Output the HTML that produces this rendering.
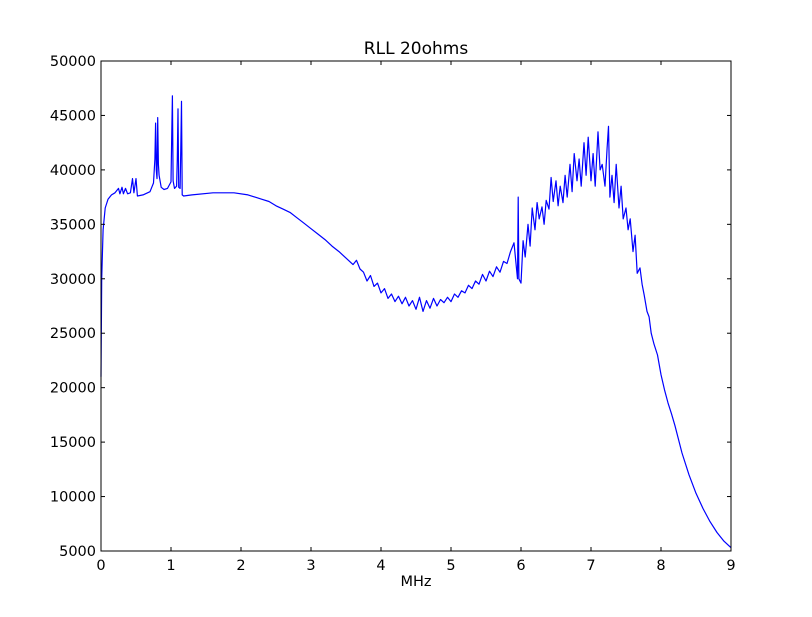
<!DOCTYPE html>
<html><head><meta charset="utf-8"><style>
body{margin:0;background:#fff;}
svg text{font-family:"DejaVu Sans","Liberation Sans",sans-serif;}
</style></head><body>
<svg id="chart" width="812" height="612" xmlns="http://www.w3.org/2000/svg">
<rect width="812" height="612" fill="#fff"/>
<g id="plot"></g>
</svg>
<script>
const xTicks=[0,1,2,3,4,5,6,7,8,9];
const yTicks=[5000,10000,15000,20000,25000,30000,35000,40000,45000,50000];
const xs=[
0,0.01,0.03,0.06,0.1,0.15,0.2,0.25,0.27,0.3,
0.32,0.35,0.38,0.42,0.45,0.47,0.5,0.52,0.6,0.7,
0.75,0.77,0.78,0.79,0.8,0.81,0.82,0.83,0.86,0.9,
0.95,1.0,1.01,1.02,1.03,1.05,1.08,1.09,1.1,1.11,
1.13,1.14,1.15,1.16,1.18,1.3,1.6,1.9,2.1,2.3,
2.4,2.5,2.6,2.7,2.8,2.9,3.0,3.1,3.2,3.3,
3.4,3.5,3.6,3.65,3.7,3.75,3.8,3.85,3.9,3.95,
4.0,4.05,4.1,4.15,4.2,4.25,4.3,4.35,4.4,4.45,
4.5,4.55,4.6,4.65,4.7,4.75,4.8,4.85,4.9,4.95,
5.0,5.05,5.1,5.15,5.2,5.25,5.3,5.35,5.4,5.45,
5.5,5.55,5.6,5.65,5.7,5.75,5.8,5.85,5.9,5.95,
5.96,5.97,6.0,6.03,6.06,6.1,6.13,6.16,6.2,6.23,
6.26,6.3,6.33,6.36,6.4,6.43,6.46,6.5,6.53,6.56,
6.6,6.63,6.66,6.7,6.73,6.76,6.8,6.83,6.86,6.9,
6.93,6.96,7.0,7.03,7.06,7.1,7.13,7.16,7.2,7.23,
7.25,7.27,7.3,7.33,7.36,7.4,7.43,7.46,7.5,7.53,
7.56,7.6,7.63,7.66,7.7,7.73,7.76,7.8,7.83,7.86,
7.9,7.95,8.0,8.05,8.1,8.15,8.2,8.3,8.4,8.5,
8.6,8.7,8.8,8.9,9.0];
const ys=[
21000,30000,34500,36500,37300,37700,37900,38300,37800,38400,
37800,38300,37800,37900,39200,37900,39200,37600,37700,38000,
38800,41000,44300,40000,39200,44800,40500,39500,38400,38200,
38300,38900,43000,46800,39000,38300,38500,41000,45600,38400,
38300,42000,46300,37700,37600,37700,37900,37900,37700,37300,
37100,36700,36400,36100,35600,35100,34600,34100,33600,33000,
32500,31900,31300,31700,30900,30600,29800,30300,29300,29600,
28700,29100,28200,28600,27900,28400,27700,28300,27500,28000,
27200,28300,27000,28000,27300,28200,27500,28100,27800,28300,
27900,28600,28300,28900,28700,29400,29100,29800,29500,30400,
29800,30700,30200,31100,30600,31600,31400,32500,33300,30000,
37500,30000,29600,33500,32000,35000,33000,36500,34500,37000,
35500,36600,35000,37200,36400,39300,37100,39000,36700,38500,
37000,39500,37500,40500,38000,41500,39000,41000,38500,42500,
39500,43000,39000,41500,38500,43500,40000,40500,38500,42000,
44000,37500,39500,37000,40500,36500,38500,35500,36500,34500,
35500,32500,34000,30500,31000,29500,28500,27000,26500,25000,
24000,23000,21200,19800,18600,17600,16500,14000,12000,10300,
8900,7700,6700,5900,5300];
const L=101,R=731,T=61,B=551;
const xScale=v=>L+(v-0)/(9-0)*(R-L);
const yScale=v=>B-(v-5000)/(50000-5000)*(B-T);
const NS="http://www.w3.org/2000/svg";
const g=document.getElementById('plot');
function mk(t,a){const e=document.createElementNS(NS,t);for(const k in a)e.setAttribute(k,a[k]);g.appendChild(e);return e;}
const n=Math.min(xs.length,ys.length);
let d='';
for(let i=0;i<n;i++){d+=(i?'L':'M')+xScale(xs[i]).toFixed(1)+' '+yScale(ys[i]).toFixed(1)+' ';}
const line=mk('path',{d:d,fill:'none',stroke:'#0000ff','stroke-width':1.2,'stroke-linejoin':'round'});


const frame=mk('rect',{x:L,y:T,width:R-L,height:B-T,fill:'none',stroke:'#000','stroke-width':1});


xTicks.forEach(v=>{const x=xScale(v);
 mk('line',{x1:x,y1:B,x2:x,y2:B-4,stroke:'#000'});mk('line',{x1:x,y1:T,x2:x,y2:T+4,stroke:'#000'});
 const t=mk('text',{x:x,y:B+19,'text-anchor':'middle','font-size':14.5});t.textContent=v;
 
 });
yTicks.forEach(v=>{const y=yScale(v);
 mk('line',{x1:L,y1:y,x2:L+4,y2:y,stroke:'#000'});mk('line',{x1:R,y1:y,x2:R-4,y2:y,stroke:'#000'});
 const t=mk('text',{x:L-5,y:y+5,'text-anchor':'end','font-size':14.5});t.textContent=v;
 
 });
const ti=mk('text',{x:(L+R)/2,y:54,'text-anchor':'middle','font-size':17});ti.textContent='RLL 20ohms';


const xl=mk('text',{x:(L+R)/2,y:586,'text-anchor':'middle','font-size':14.5});xl.textContent='MHz';


</script>
</body></html>
